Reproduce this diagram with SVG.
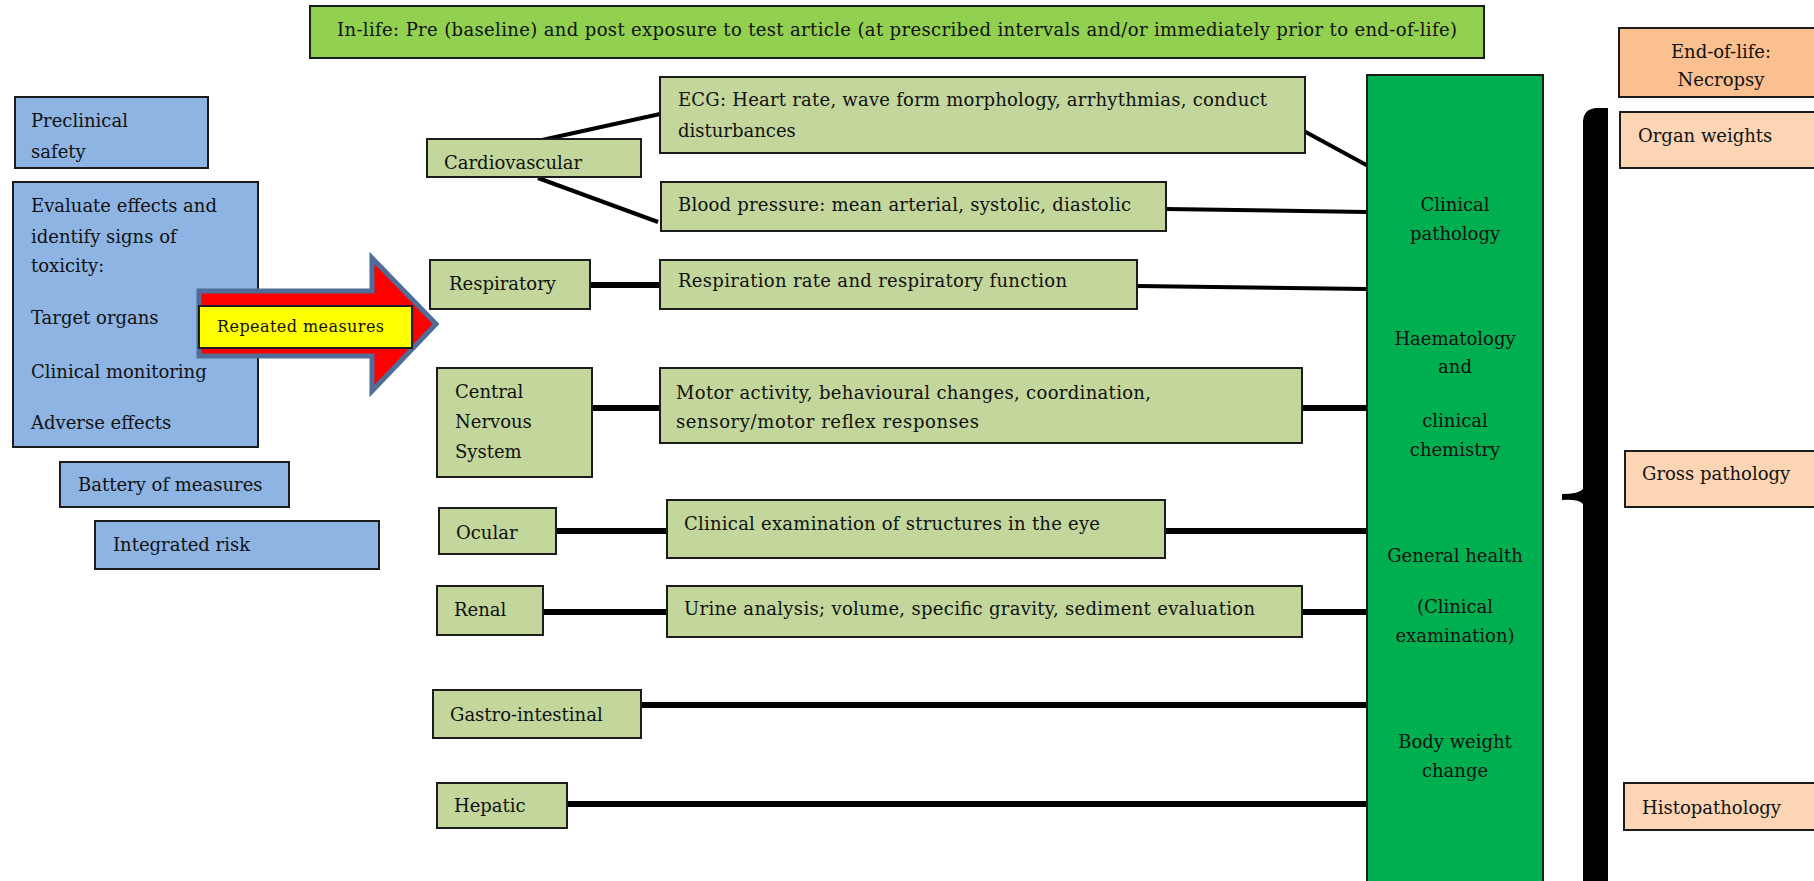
<svg xmlns="http://www.w3.org/2000/svg" width="1814" height="881" viewBox="0 0 1814 881">
  <style>
    text { font-family: "DejaVu Serif", "Liberation Serif", serif; font-size: 18px; fill: #111; }
    .small { font-size: 16px; }
    .mid { text-anchor: middle; }
    .box { stroke: #1c1c1c; stroke-width: 2; }
    .blue { fill: #8EB4E3; }
    .lime { fill: #C3D69B; }
    .topbar { fill: #92D050; }
    .tall { fill: #00B050; }
    .necro { fill: #FAC090; }
    .peach { fill: #FCD5B5; }
    .link { stroke: #000; fill: none; stroke-linecap: butt; }
    .thin { stroke-width: 4; }
    .thick { stroke-width: 6; }
  </style>

  <rect width="1814" height="881" fill="#fff"/>

  <!-- timing header -->
  <g id="in-life">
    <rect class="box topbar" x="310" y="6" width="1174" height="52"/>
    <text x="337" y="36" textLength="1120">In-life: Pre (baseline) and post exposure to test article (at prescribed intervals and/or immediately prior to end-of-life)</text>
  </g>

  <!-- left column: study aims -->
  <g id="preclinical-safety">
    <rect class="box blue" x="15" y="97" width="193" height="71"/>
    <text x="31" y="127">Preclinical</text>
    <text x="31" y="158">safety</text>
  </g>
  <g id="evaluate-effects">
    <rect class="box blue" x="13" y="182" width="245" height="265"/>
    <text x="31" y="212">Evaluate effects and</text>
    <text x="31" y="243">identify signs of</text>
    <text x="31" y="272">toxicity:</text>
    <text x="31" y="324">Target organs</text>
    <text x="31" y="378">Clinical monitoring</text>
    <text x="31" y="429">Adverse effects</text>
  </g>
  <g id="battery-of-measures">
    <rect class="box blue" x="60" y="462" width="229" height="45"/>
    <text x="78" y="491">Battery of measures</text>
  </g>
  <g id="integrated-risk">
    <rect class="box blue" x="95" y="521" width="284" height="48"/>
    <text x="113" y="551">Integrated risk</text>
  </g>

  <!-- repeated measures arrow -->
  <g id="repeated-measures">
    <polygon points="199,291 372,291 372,258 436,324 372,391 372,356 199,356" fill="#FF0000" stroke="#4F6D97" stroke-width="5" stroke-linejoin="miter"/>
    <rect class="box" x="199" y="306" width="213" height="42" fill="#FFFF00"/>
    <text class="small" x="217" y="332" textLength="167">Repeated measures</text>
  </g>

  <!-- connectors -->
  <g id="connectors">
    <line class="link thin" x1="542" y1="140" x2="660" y2="114"/>
    <line class="link thin" x1="538" y1="178" x2="658" y2="222"/>
    <line class="link thin" x1="1302" y1="130" x2="1370" y2="167"/>
    <line class="link thin" x1="1166" y1="209" x2="1367" y2="212"/>
    <line class="link thick" x1="590" y1="285" x2="660" y2="285"/>
    <line class="link thin" x1="1137" y1="286" x2="1367" y2="289"/>
    <line class="link thick" x1="592" y1="408" x2="660" y2="408"/>
    <line class="link thick" x1="1302" y1="408" x2="1367" y2="408"/>
    <line class="link thick" x1="556" y1="531" x2="667" y2="531"/>
    <line class="link thick" x1="1165" y1="531" x2="1367" y2="531"/>
    <line class="link thick" x1="543" y1="612" x2="667" y2="612"/>
    <line class="link thick" x1="1302" y1="612" x2="1367" y2="612"/>
    <line class="link thick" x1="641" y1="705" x2="1367" y2="705"/>
    <line class="link thick" x1="567" y1="804" x2="1367" y2="804"/>
  </g>

  <!-- organ systems -->
  <g id="cardiovascular">
    <rect class="box lime" x="427" y="139" width="214" height="38"/>
    <text x="444" y="169">Cardiovascular</text>
  </g>
  <g id="ecg">
    <rect class="box lime" x="660" y="77" width="645" height="76"/>
    <text x="678" y="106" textLength="589">ECG: Heart rate, wave form morphology, arrhythmias, conduct</text>
    <text x="678" y="137">disturbances</text>
  </g>
  <g id="blood-pressure">
    <rect class="box lime" x="661" y="182" width="505" height="49"/>
    <text x="678" y="211" textLength="453">Blood pressure: mean arterial, systolic, diastolic</text>
  </g>
  <g id="respiratory">
    <rect class="box lime" x="430" y="260" width="160" height="49"/>
    <text x="449" y="290">Respiratory</text>
  </g>
  <g id="respiration-rate">
    <rect class="box lime" x="660" y="260" width="477" height="49"/>
    <text x="678" y="287" textLength="389">Respiration rate and respiratory function</text>
  </g>
  <g id="central-nervous-system">
    <rect class="box lime" x="437" y="368" width="155" height="109"/>
    <text x="455" y="398">Central</text>
    <text x="455" y="428">Nervous</text>
    <text x="455" y="458">System</text>
  </g>
  <g id="motor-activity">
    <rect class="box lime" x="660" y="368" width="642" height="75"/>
    <text x="676" y="399" textLength="475">Motor activity, behavioural changes, coordination,</text>
    <text x="676" y="428" textLength="303">sensory/motor reflex responses</text>
  </g>
  <g id="ocular">
    <rect class="box lime" x="439" y="508" width="117" height="46"/>
    <text x="456" y="539">Ocular</text>
  </g>
  <g id="eye-examination">
    <rect class="box lime" x="667" y="500" width="498" height="58"/>
    <text x="684" y="530" textLength="416">Clinical examination of structures in the eye</text>
  </g>
  <g id="renal">
    <rect class="box lime" x="437" y="586" width="106" height="49"/>
    <text x="454" y="616">Renal</text>
  </g>
  <g id="urine-analysis">
    <rect class="box lime" x="667" y="586" width="635" height="51"/>
    <text x="684" y="615" textLength="571">Urine analysis; volume, specific gravity, sediment evaluation</text>
  </g>
  <g id="gastro-intestinal">
    <rect class="box lime" x="433" y="690" width="208" height="48"/>
    <text x="450" y="721">Gastro-intestinal</text>
  </g>
  <g id="hepatic">
    <rect class="box lime" x="437" y="783" width="130" height="45"/>
    <text x="454" y="812">Hepatic</text>
  </g>

  <!-- whole-animal endpoints -->
  <g id="clinical-endpoints">
    <rect class="box tall" x="1367" y="75" width="176" height="820"/>
    <text class="mid" x="1455" y="211">Clinical</text>
    <text class="mid" x="1455" y="240">pathology</text>
    <text class="mid" x="1455" y="345">Haematology</text>
    <text class="mid" x="1455" y="373">and</text>
    <text class="mid" x="1455" y="427">clinical</text>
    <text class="mid" x="1455" y="456">chemistry</text>
    <text class="mid" x="1455" y="562">General health</text>
    <text class="mid" x="1455" y="613">(Clinical</text>
    <text class="mid" x="1455" y="642">examination)</text>
    <text class="mid" x="1455" y="748">Body weight</text>
    <text class="mid" x="1455" y="777">change</text>
  </g>

  <!-- necropsy bracket -->
  <g id="necropsy-bracket">
    <path d="M1596 108 L1608 108 L1608 886 L1583 886 L1583 504 Q1579 499 1562 500 L1562 494 Q1579 494 1583 489 L1583 121 Q1584 109 1596 108 Z" fill="#000"/>
  </g>

  <!-- end-of-life -->
  <g id="end-of-life">
    <rect class="box necro" x="1619" y="28" width="205" height="69"/>
    <text class="mid" x="1721" y="58">End-of-life:</text>
    <text class="mid" x="1721" y="86">Necropsy</text>
  </g>
  <g id="organ-weights">
    <rect class="box peach" x="1620" y="112" width="204" height="56"/>
    <text x="1638" y="142">Organ weights</text>
  </g>
  <g id="gross-pathology">
    <rect class="box peach" x="1625" y="451" width="199" height="56"/>
    <text x="1642" y="480">Gross pathology</text>
  </g>
  <g id="histopathology">
    <rect class="box peach" x="1624" y="783" width="200" height="47"/>
    <text x="1642" y="814">Histopathology</text>
  </g>
</svg>
